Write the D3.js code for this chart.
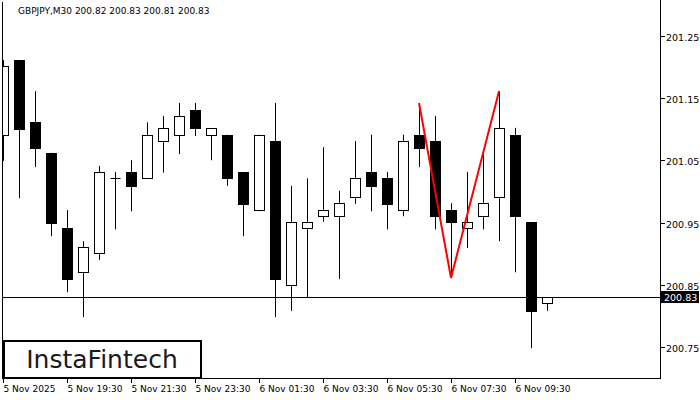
<!DOCTYPE html>
<html><head><meta charset="utf-8">
<script src="https://cdn.jsdelivr.net/npm/d3@7"></script>
<style>body{margin:0;background:#fff}svg{display:block}text{font-family:"DejaVu Sans",sans-serif}</style>
</head><body><svg id="c" width="700" height="400"></svg>
<script>
const opens  = [201.091,201.211,201.111,201.062,200.941,200.870,200.901,201.021,201.031,201.021,201.081,201.091,201.131,201.091,201.091,201.031,200.970,201.081,200.850,200.941,200.960,200.960,200.991,201.031,201.021,200.970,201.091,201.081,200.970,200.941,200.960,200.991,201.091,200.951,200.821];
const highs  = [201.211,201.211,201.161,201.062,200.970,200.920,201.041,201.031,201.050,201.111,201.121,201.142,201.142,201.091,201.091,201.031,201.091,201.142,201.009,201.021,201.071,201.001,201.081,201.091,201.031,201.091,201.142,201.121,200.981,201.031,201.060,201.161,201.102,200.951,200.830];
const lows   = [201.049,200.989,201.039,200.928,200.838,200.798,200.890,200.939,200.968,201.021,201.030,201.060,201.089,201.050,201.009,200.928,200.968,200.798,200.808,200.830,200.951,200.859,200.980,200.968,200.939,200.960,201.039,200.939,200.862,200.909,200.939,200.920,200.870,200.748,200.808];
const closes = [201.201,201.100,201.070,200.949,200.859,200.911,201.031,201.021,201.009,201.091,201.102,201.121,201.102,201.102,201.021,200.980,201.091,200.859,200.951,200.951,200.970,200.981,201.021,201.009,200.980,201.081,201.070,200.960,200.951,200.951,200.981,201.102,200.960,200.808,200.830];
const patternIdx = [26,28,31];
const patternVals = [201.142,200.861,201.161];
const yTicks = [201.25,201.15,201.05,200.95,200.85,200.75];
const xTickIdx = [0,4,8,12,16,20,24,28,32];
const xTickLabels = ["5 Nov 2025","5 Nov 19:30","5 Nov 21:30","5 Nov 23:30","6 Nov 01:30","6 Nov 03:30","6 Nov 05:30","6 Nov 07:30","6 Nov 09:30"];
const lastPrice = 200.83;
const title = "GBPJPY,M30  200.82 200.83 200.81 200.83";

const svg = d3.select("#c");
const x = d3.scaleLinear().domain([0,1]).range([3,19]);
const y = d3.scaleLinear().domain([200.75,201.15]).range([347,98]);
const L=2,R=660,T=2,B=378;
svg.append("defs").append("clipPath").attr("id","cp").append("rect").attr("x",L+1).attr("y",T).attr("width",R-L-1).attr("height",B-T);
const g = svg.append("g").attr("clip-path","url(#cp)");
g.append("line").attr("x1",L).attr("x2",R).attr("y1",Math.round(y(lastPrice))+.5).attr("y2",Math.round(y(lastPrice))+.5).attr("stroke","#000");
opens.forEach((o,i)=>{
  const cx=Math.round(x(i))+.5, c=closes[i];
  g.append("line").attr("x1",cx).attr("x2",cx).attr("y1",y(highs[i])).attr("y2",y(lows[i])).attr("stroke","#000");
  const top=Math.round(y(Math.max(o,c))), bot=Math.round(y(Math.min(o,c)));
  if(bot-top<1){g.append("line").attr("x1",cx-5).attr("x2",cx+5).attr("y1",top+.5).attr("y2",top+.5).attr("stroke","#000");}
  else g.append("rect").attr("x",cx-5).attr("y",top+.5).attr("width",10).attr("height",bot-top)
    .attr("fill",c<o?"#000":"#fff").attr("stroke","#000");
});
g.append("path").attr("d",d3.line().x(d=>x(d[0])).y(d=>y(d[1]))(patternIdx.map((p,i)=>[p,patternVals[i]])))
  .attr("fill","none").attr("stroke","#ff0000").attr("stroke-width",2);
svg.append("line").attr("x1",L+.5).attr("x2",L+.5).attr("y1",T).attr("y2",B).attr("stroke","#000");
svg.append("line").attr("x1",R+.5).attr("x2",R+.5).attr("y1",0).attr("y2",B+1).attr("stroke","#000");
svg.append("line").attr("x1",L).attr("x2",R+1).attr("y1",B+.5).attr("y2",B+.5).attr("stroke","#000");
yTicks.forEach(t=>{
  const yy=Math.round(y(t))+.5;
  svg.append("line").attr("x1",R).attr("x2",R+5).attr("y1",yy).attr("y2",yy).attr("stroke","#000");
  svg.append("text").attr("x",666).attr("y",yy+4).attr("font-size",9.5).text(t.toFixed(2));
});
const ly=Math.round(y(lastPrice));
svg.append("rect").attr("x",661).attr("y",ly-6).attr("width",38).attr("height",12).attr("fill","#000");
svg.append("text").attr("x",664).attr("y",ly+4).attr("font-size",9.5).attr("fill","#fff").text(lastPrice.toFixed(2));
xTickIdx.forEach((ix,k)=>{
  const xx=Math.round(x(ix))+.5;
  svg.append("line").attr("x1",xx).attr("x2",xx).attr("y1",B).attr("y2",B+5).attr("stroke","#000");
  svg.append("text").attr("x",xx).attr("y",392).attr("font-size",9).text(xTickLabels[k]);
});
svg.append("text").attr("x",18).attr("y",14).attr("font-size",9).text(title);
svg.append("rect").attr("x",4).attr("y",341).attr("width",197).attr("height",37).attr("fill","#fff").attr("stroke","#000").attr("stroke-width",2);
svg.append("text").attr("x",102).attr("y",368).attr("text-anchor","middle").attr("font-size",25).attr("font-family","Inter, 'Open Sans', sans-serif").attr("fill","#1a1a1a").text("InstaFintech");
</script></body></html>
